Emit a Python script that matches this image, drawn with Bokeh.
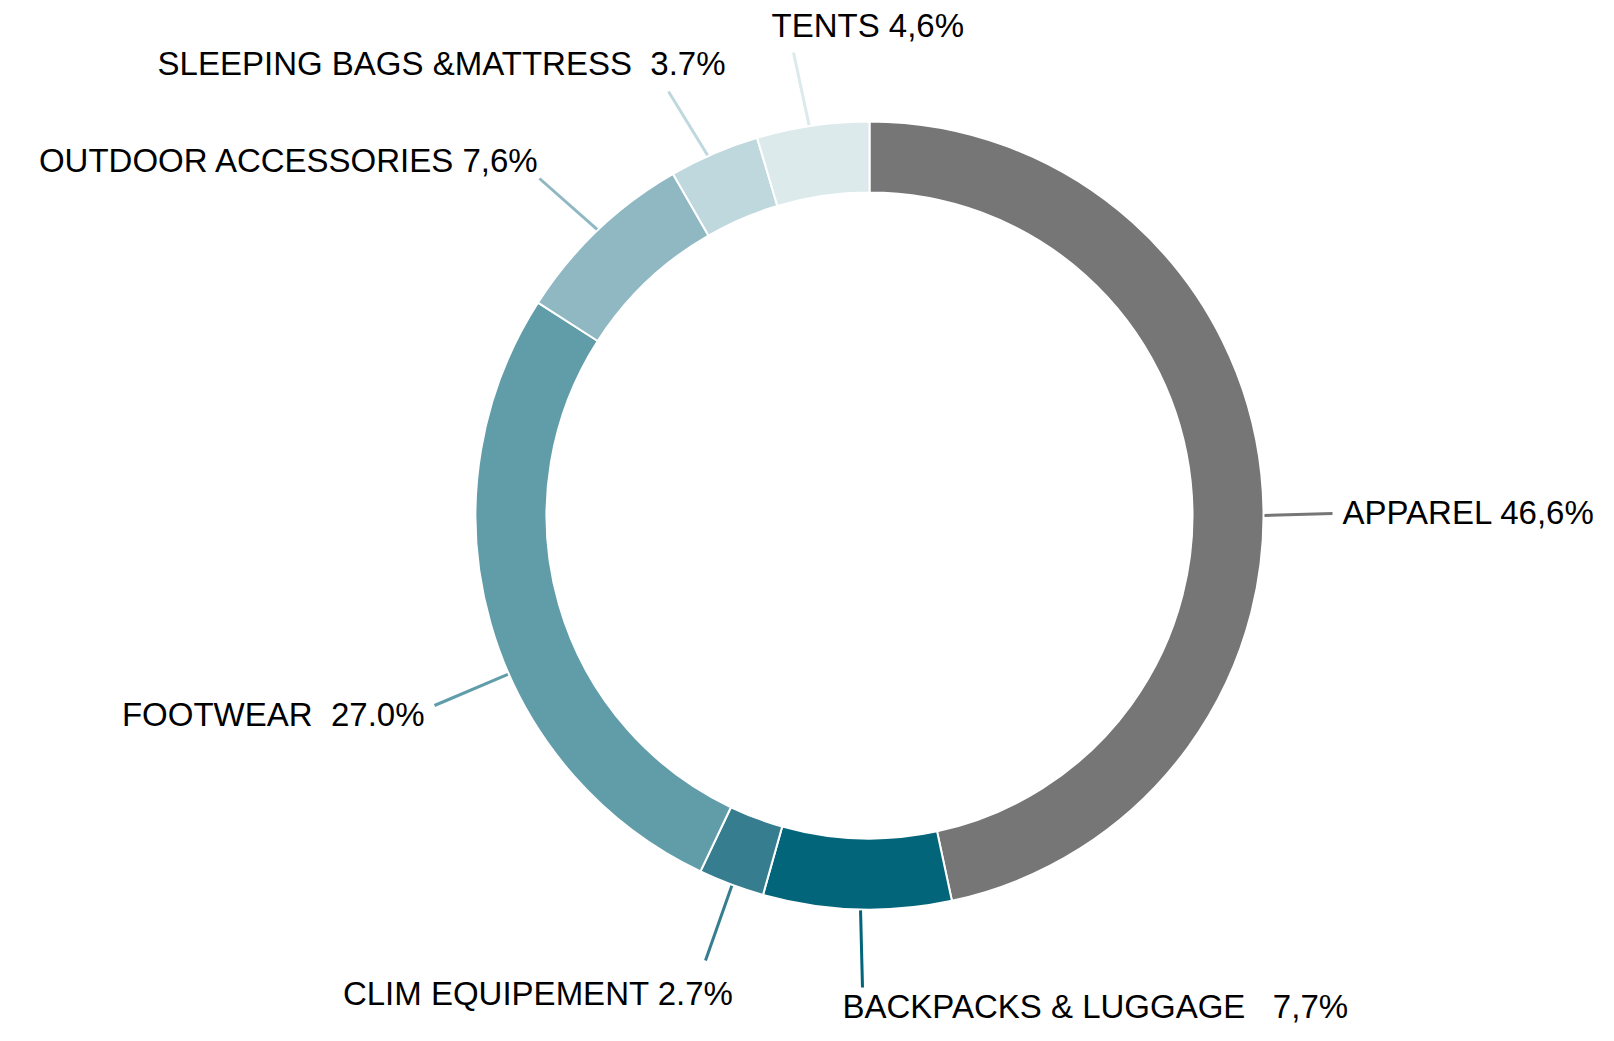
import math
from bokeh.plotting import figure
from bokeh.models import Range1d, ColumnDataSource
from bokeh.core.properties import value
from bokeh.embed import file_html
from bokeh.resources import INLINE

# ---------------- data ----------------
categories = ["APPAREL", "BACKPACKS & LUGGAGE", "CLIM EQUIPEMENT", "FOOTWEAR",
              "OUTDOOR ACCESSORIES", "SLEEPING BAGS &MATTRESS", "TENTS"]
shares = [46.6, 7.7, 2.7, 27.0, 7.6, 3.7, 4.6]
share_texts = ["46,6%", "7,7%", "2.7%", "27.0%", "7,6%", "3.7%", "4,6%"]
gaps = [" ", "\u00a0\u00a0 ", " ", "\u00a0 ", " ", "\u00a0 ", " "]
colors = ["#767676", "#03657A", "#367E8F", "#619DA9", "#8FB8C3", "#BFD8DD", "#DDEAEB"]

# ---------------- layout (reference pixel coordinates) ----------------
H_REF = 1041
CX, CY = 873, 521
R_OUT, R_IN = 394, 323
leader_deg = [0.0, 268.7, 249.6, 203.7, 133.6, 114.2, 98.8]
leader_end = [(1336, 519), (866, 993), (709, 966), (438, 711), (543, 184), (672, 97), (797, 58)]
# (x, vertical middle of the capitals, alignment)
label_pos = [(1346, 518, "left"), (846, 1012, "left"), (737, 999, "right"),
             (428, 720, "right"), (543, 166, "right"), (729, 69, "right"), (775, 31, "left")]


def fy(ry):
    return H_REF - ry


total = sum(shares)
starts, ends = [], []
cum = 0.0
for s in shares:
    starts.append(math.radians(90 - cum / total * 360))
    cum += s
    ends.append(math.radians(90 - cum / total * 360))

p = figure(width=1598, height=1025, x_range=Range1d(4, 1602), y_range=Range1d(10, 1035),
           output_backend="svg", toolbar_location=None, min_border=0,
           background_fill_color="white", border_fill_color="white")
p.axis.visible = False
p.xgrid.visible = False
p.ygrid.visible = False
p.outline_line_color = None

src = ColumnDataSource(dict(x=[CX] * len(shares), y=[fy(CY)] * len(shares),
                            start=starts, end=ends, color=colors, cat=categories))
p.annular_wedge(x="x", y="y", inner_radius=R_IN, outer_radius=R_OUT,
                start_angle="start", end_angle="end", direction="clock",
                fill_color="color", line_color="white", line_width=2, source=src)

# leader lines
xs, ys = [], []
for a, (ex, ey) in zip(leader_deg, leader_end):
    ar = math.radians(a)
    xs.append([CX + (R_OUT + 1) * math.cos(ar), ex])
    ys.append([fy(CY) + (R_OUT + 1) * math.sin(ar), fy(ey)])
p.multi_line(xs=xs, ys=ys, line_color=colors, line_width=3)

# labels
for cat, gap, st, (lx, ly, al) in zip(categories, gaps, share_texts, label_pos):
    p.text(x=[lx], y=[fy(ly)], text=[cat + gap + st], text_align=al,
           text_baseline="middle", text_font=value("Liberation Sans"),
           text_font_size="33px", text_color="#000000")

open("out.html", "w").write(file_html(p, INLINE))
